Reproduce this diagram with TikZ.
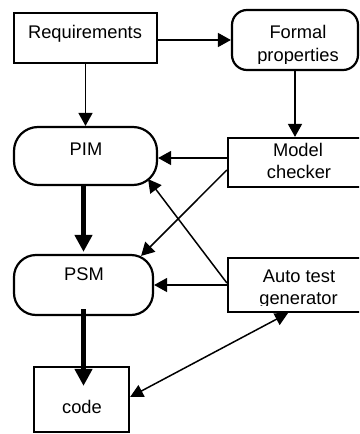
\documentclass[tikz,border=0pt]{standalone}
\usepackage{fontspec}
\setmainfont{Liberation Sans}
\usetikzlibrary{arrows.meta}
\begin{document}
\begin{tikzpicture}[x=1pt,y=-1pt,
 box/.style={draw,line width=2.2pt,inner sep=0pt},
 lbl/.style={anchor=base,inner sep=0pt,font=\fontsize{18.3}{22}\selectfont},
 tarrow/.style={line width=1.5pt,-{Triangle[length=13pt,width=14pt]}},
 karrow/.style={line width=4.5pt,-{Triangle[length=17pt,width=17pt]}},
 darrow/.style={line width=1.5pt,{Triangle[length=13pt,width=13pt]}-{Triangle[length=13pt,width=13pt]}}]
\useasboundingbox (0,0) rectangle (359,434);
\clip (0,0) rectangle (359,434);
% boxes
\node[box,minimum width=143pt,minimum height=50pt] (req) at (85.5,38) {};
\node[box,rounded corners=15pt,minimum width=126pt,minimum height=60pt] (fp) at (295,40) {};
\node[box,rounded corners=24pt,minimum width=143pt,minimum height=58pt] (pim) at (85.5,156) {};
\node[box,minimum width=152pt,minimum height=49pt] (mc) at (304,162.5) {};
\node[box,rounded corners=22pt,minimum width=139pt,minimum height=60pt] (psm) at (83.5,285) {};
\node[box,minimum width=152pt,minimum height=54pt] (atg) at (304,285) {};
\node[box,minimum width=95pt,minimum height=65pt] (code) at (81.5,399.5) {};
% labels
\node[lbl] (reqt) at (85,38.3) {Requirements};
\node[lbl] (fpt1) at (298,38.3) {Formal};
\begin{scope}
\clip (232,40) rectangle (358,63.5);
\node[lbl] (fpt2) at (298,61) {properties};
\end{scope}
\node[lbl] (pimt) at (86,155) {PIM};
\node[lbl] (mct1) at (298,156) {Model};
\node[lbl] (mct2) at (299,178.5) {checker};
\node[lbl] (psmt) at (84,280) {PSM};
\node[lbl] (atgt1) at (299,282) {Auto test};
\begin{scope}
\clip (228,285) rectangle (380,305.5);
\node[lbl] (atgt2) at (298.5,304) {generator};
\end{scope}
\node[lbl] (codet) at (82,413) {code};
% connectors
\draw[tarrow] (req.east |- fp.west) -- (fp.west);
\draw[tarrow] (req.south) -- (pim.north);
\draw[tarrow] (fp.south) -- (fp.south |- mc.north);
\draw[tarrow] ([yshift=4.5pt]mc.west) -- ([yshift=4.5pt]mc.west -| pim.east);
\draw[tarrow] ([yshift=-7.5pt]mc.west) -- ([xshift=-13pt,yshift=-2pt]psm.north east);
\draw[tarrow] ([yshift=2pt]atg.west) -- ([xshift=-10pt,yshift=7pt]pim.south east);
\draw[tarrow] (atg.west) -- (psm.east);
\draw[karrow] (pim.south -| psm.north) -- ([yshift=2pt]psm.north);
\draw[karrow] ([yshift=7pt]psm.south) -- ([yshift=-20pt]code.north -| psm.south);
\draw[darrow] ([yshift=2.5pt]code.east) -- ([xshift=-16pt]atg.south);
\end{tikzpicture}
\end{document}
